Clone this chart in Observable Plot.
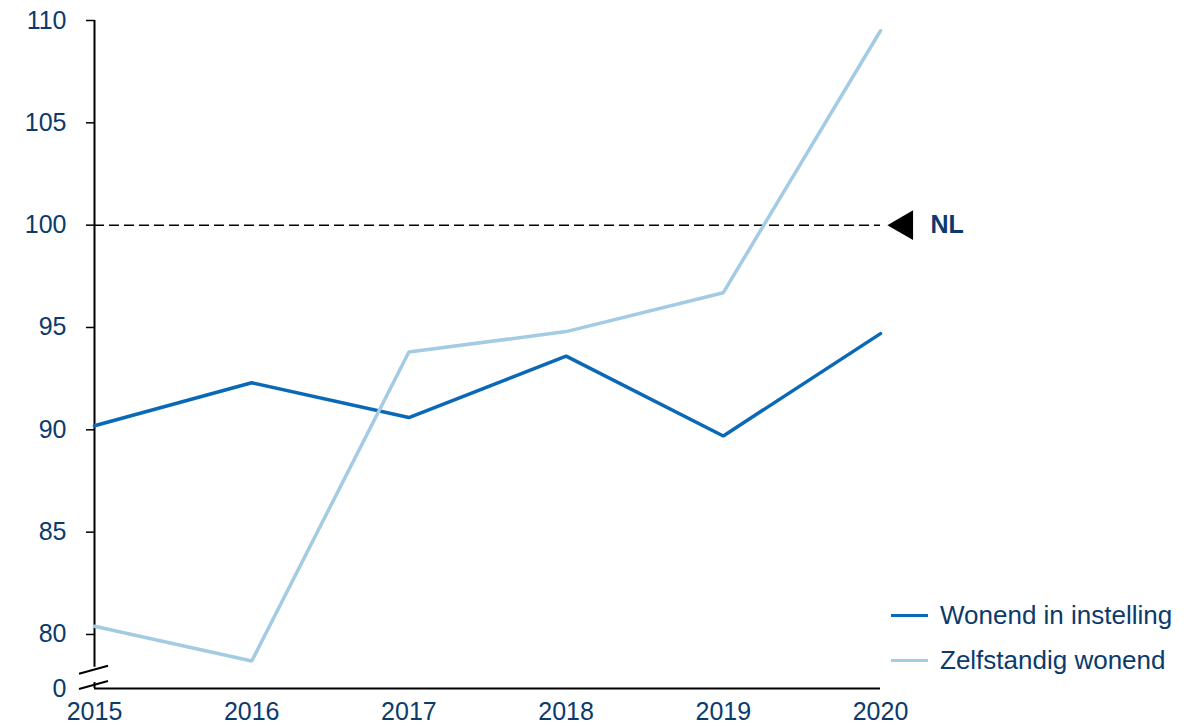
<!DOCTYPE html>
<html>
<head>
<meta charset="utf-8">
<script src="https://cdn.jsdelivr.net/npm/d3@7"></script>
<script src="https://cdn.jsdelivr.net/npm/@observablehq/plot@0.6"></script>
<style>
  html, body { margin: 0; padding: 0; background: #fff; }
  #wrap { position: relative; width: 1196px; height: 726px; font-family: "Liberation Sans", Arial, sans-serif; }
  #legend { position: absolute; left: 891px; top: 593px; color: #0b3a6c; font-size: 26px; }
  .item { display: flex; align-items: center; height: 45px; }
  .swatch { width: 37px; height: 0; border-top: 3.5px solid; margin-right: 12px; }
</style>
</head>
<body>
<div id="wrap">
  <div id="chart"></div>
  <div id="legend"></div>
</div>
<script>
const years = [2015, 2016, 2017, 2018, 2019, 2020];
const seriesNames = ["Wonend in instelling", "Zelfstandig wonend"];
const wonendInInstelling = [90.2, 92.3, 90.6, 93.6, 89.7, 94.7];
const zelfstandigWonend = [80.4, 78.7, 93.8, 94.8, 96.7, 109.5];
const colors = ["#0a69b6", "#a3cbe3"];
const yTicks = [80, 85, 90, 95, 100, 105, 110];
const referenceValue = 100;
const referenceLabel = "NL";
// broken axis: the visual "0" sits just below 80
const yZero = 77.36;
const breakTop = 78.4;
const breakBottom = 77.65;

const textColor = "#0b3a6c";

const data = [];
years.forEach((yr, i) => {
  data.push({year: yr, value: wonendInInstelling[i], series: seriesNames[0]});
  data.push({year: yr, value: zelfstandigWonend[i], series: seriesNames[1]});
});

const plot = Plot.plot({
  width: 1196,
  height: 726,
  marginLeft: 94,
  marginRight: 316,
  marginTop: 20,
  marginBottom: 38,
  style: {fontFamily: "Liberation Sans, Arial, sans-serif", fontSize: "25px", color: textColor, background: "#fff"},
  x: {domain: [2015, 2020], label: null},
  y: {domain: [yZero, 110], label: null},
  color: {domain: seriesNames, range: colors},
  marks: [
    Plot.axisY({ticks: yTicks, tickSize: 8, tickPadding: 20, tickFormat: d => String(d), stroke: "#000", strokeWidth: 1.5, fill: textColor, fontSize: 25, label: null}),
    Plot.axisY({ticks: [yZero], tickSize: 0, tickPadding: 28, tickFormat: () => "0", fill: textColor, fontSize: 25, label: null}),
    Plot.axisX({ticks: years, tickSize: 0, tickPadding: 14, tickFormat: d => String(d), fill: textColor, fontSize: 25, label: null}),
    Plot.ruleX([2015], {y1: breakTop, y2: 110, stroke: "#000", strokeWidth: 2}),
    Plot.ruleX([2015], {y1: yZero, y2: breakBottom, stroke: "#000", strokeWidth: 2}),
    Plot.ruleY([yZero], {x1: 2015, x2: 2020, stroke: "#000", strokeWidth: 2}),
    Plot.ruleY([referenceValue], {x1: 2015, x2: 2020, stroke: "#000", strokeWidth: 1.5, strokeDasharray: "10,5"}),
    Plot.dot([referenceValue], {x: () => 2020, y: d => d, symbol: "triangle", rotate: -90, r: 11, fill: "#000", stroke: null, dx: 24}),
    Plot.text([referenceLabel], {x: () => 2020, y: () => referenceValue, text: d => d, dx: 50, textAnchor: "start", fontWeight: "bold", fill: textColor, fontSize: 25}),
    Plot.line(data, {x: "year", y: "value", z: "series", stroke: "series", strokeWidth: 3.5, strokeLinejoin: "miter"})
  ]
});

document.getElementById("chart").appendChild(plot);

// axis-break slashes
const xs = plot.scale("x"), ys = plot.scale("y");
const svg = d3.select(plot);
const ax = xs.apply(2015);
[breakTop, breakBottom].forEach(v => {
  const py = ys.apply(v) + 2;
  svg.append("line")
    .attr("x1", ax - 15).attr("y1", py + 5)
    .attr("x2", ax + 14).attr("y2", py - 3)
    .attr("stroke", "#000").attr("stroke-width", 2);
});

// legend
const legend = d3.select("#legend");
seriesNames.forEach((name, i) => {
  const item = legend.append("div").attr("class", "item");
  item.append("div").attr("class", "swatch").style("border-color", colors[i]);
  item.append("span").text(name);
});
</script>
</body>
</html>
